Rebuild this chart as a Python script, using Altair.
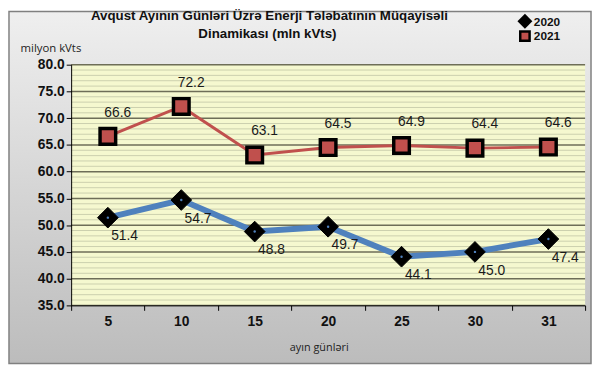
import altair as alt
import pandas as pd

# ---- data ----
days = ["5", "10", "15", "20", "25", "30", "31"]
v2020 = [51.4, 54.7, 48.8, 49.7, 44.1, 45.0, 47.4]
v2021 = [66.6, 72.2, 63.1, 64.5, 64.9, 64.4, 64.6]
series = ["2020", "2021"]
title_lines = ["Avqust Ayının Günləri Üzrə Enerji Tələbatının Müqayisəli",
               "Dinamikası (mln kVts)"]
y_title = "milyon kVts"
x_title = "ayın günləri"
y_min, y_max = 35, 80

df20 = pd.DataFrame({"day": days, "value": v2020, "series": series[0]})
df21 = pd.DataFrame({"day": days, "value": v2021, "series": series[1]})
minor_df = pd.DataFrame({"value": [v for v in range(y_min, y_max + 1) if v % 5 != 0]})
major_df = pd.DataFrame({"value": list(range(y_min, y_max + 1, 5))})
one = pd.DataFrame({"a": [0]})

W, H = 521, 244
PADL, PADT, PADR, PADB = 64, 55, 7, 60

FONT = "Liberation Sans"

yscale = alt.Scale(domain=[y_min, y_max], nice=False, zero=False)
xscale = alt.Scale(paddingInner=0, paddingOuter=0)

yaxis = alt.Axis(
    values=list(range(y_min, y_max + 1, 5)), format=".1f", grid=False,
    tickSize=5, tickColor="#000", domainColor="#000", labelFont=FONT,
    labelFontSize=14, labelFontWeight="bold", labelColor="#111",
    labelPadding=2, title=y_title, titleAngle=0, titleX=-21, titleY=-16,
    titleAlign="center", titleBaseline="middle", titleFont="Open Sans",
    titleFontSize=11.5, titleFontWeight="normal", titleColor="#222", zindex=1)
xaxis = alt.Axis(
    tickBand="extent", labelAngle=0, grid=False, tickSize=5,
    tickColor="#000", domainColor="#000", labelFont=FONT, labelFontSize=14,
    labelFontWeight="bold", labelColor="#111", labelPadding=4,
    title=x_title, titleX=251, titleY=43, titleAlign="center",
    titleBaseline="middle", titleFont="Open Sans", titleFontSize=11,
    titleFontWeight="normal", titleColor="#222", zindex=1)

yenc = alt.Y("value:Q", scale=yscale, axis=yaxis)
xenc = alt.X("day:N", sort=days, scale=xscale, axis=xaxis)

# ---- background ----
bg = alt.Chart(one).mark_rect(
    fill=alt.Gradient(
        gradient="linear",
        stops=[alt.GradientStop(color="#efefef", offset=0),
               alt.GradientStop(color="#bcbcbc", offset=1)],
        x1=0, x2=0, y1=0, y2=1),
    stroke="#808080", strokeWidth=1.5,
).encode(x=alt.value(-PADL + 1), x2=alt.value(W + PADR - 1),
         y=alt.value(-PADT + 1), y2=alt.value(H + PADB - 1))

plot_bg = alt.Chart(one).mark_rect(fill="#f5f8cf").encode(
    x=alt.value(0), x2=alt.value(W), y=alt.value(0), y2=alt.value(H))

minor = alt.Chart(minor_df).mark_rule(color="#cbcfae", strokeWidth=1).encode(
    y=yenc, x=alt.value(0), x2=alt.value(W))
major = alt.Chart(major_df).mark_rule(color="#6e6e58", strokeWidth=1.5).encode(
    y=yenc, x=alt.value(0), x2=alt.value(W))

line20 = alt.Chart(df20).mark_line(color="#4f81bd", strokeWidth=6).encode(x=xenc, y=yenc)
line21 = alt.Chart(df21).mark_line(color="#c0504d", strokeWidth=3).encode(x=xenc, y=yenc)

pt20 = alt.Chart(df20).mark_point(shape="diamond", filled=True, fill="#000",
                                  stroke="#000", strokeWidth=1, size=440,
                                  opacity=1).encode(x=xenc, y=yenc)
dot20 = alt.Chart(df20).mark_point(shape="circle", filled=True, fill="#4f81bd",
                                   size=6, opacity=1).encode(x=xenc, y=yenc)
pt21 = alt.Chart(df21).mark_point(shape="square", filled=True, fill="#c0504d",
                                  stroke="#000", strokeWidth=3.5, size=250,
                                  opacity=1).encode(x=xenc, y=yenc)

lab20 = alt.Chart(df20).mark_text(font=FONT, fontSize=14, color="#1a1a1a",
                                  dx=17, dy=19).encode(
    x=xenc, y=yenc, text=alt.Text("value:Q", format=".1f"))
lab21 = alt.Chart(df21).mark_text(font=FONT, fontSize=14, color="#1a1a1a",
                                  dx=10, dy=-24).encode(
    x=xenc, y=yenc, text=alt.Text("value:Q", format=".1f"))

# ---- title ----
t1 = alt.Chart(one).mark_text(font=FONT, fontSize=13.5, fontWeight="bold",
                              color="#111", align="center", baseline="middle").encode(
    x=alt.value(201), y=alt.value(-49), text=alt.value(title_lines[0]))
t2 = alt.Chart(one).mark_text(font=FONT, fontSize=13.5, fontWeight="bold",
                              color="#111", align="center", baseline="middle").encode(
    x=alt.value(199), y=alt.value(-31), text=alt.value(title_lines[1]))

# ---- legend ----
lg1 = alt.Chart(one).mark_point(shape="diamond", filled=True, fill="#000",
                                size=230, opacity=1).encode(
    x=alt.value(460), y=alt.value(-44))
lg2 = alt.Chart(one).mark_point(shape="square", filled=True, fill="#c0504d",
                                stroke="#000", strokeWidth=2.5, size=90,
                                opacity=1).encode(
    x=alt.value(460), y=alt.value(-29))
lt1 = alt.Chart(one).mark_text(font=FONT, fontSize=12, fontWeight="bold",
                               color="#111", align="left", baseline="middle").encode(
    x=alt.value(469), y=alt.value(-43), text=alt.value(series[0]))
lt2 = alt.Chart(one).mark_text(font=FONT, fontSize=12, fontWeight="bold",
                               color="#111", align="left", baseline="middle").encode(
    x=alt.value(469), y=alt.value(-29), text=alt.value(series[1]))

chart = alt.layer(
    bg, plot_bg, minor, major, line20, line21, pt20, dot20, pt21,
    lab20, lab21, t1, t2, lg1, lg2, lt1, lt2
).properties(
    width=W, height=H,
    autosize=alt.AutoSizeParams(type="none"),
    padding={"left": PADL, "top": PADT, "right": PADR, "bottom": PADB},
).configure_view(stroke=None)

chart.save("out.html", embed_options={"renderer": "svg", "actions": False})
